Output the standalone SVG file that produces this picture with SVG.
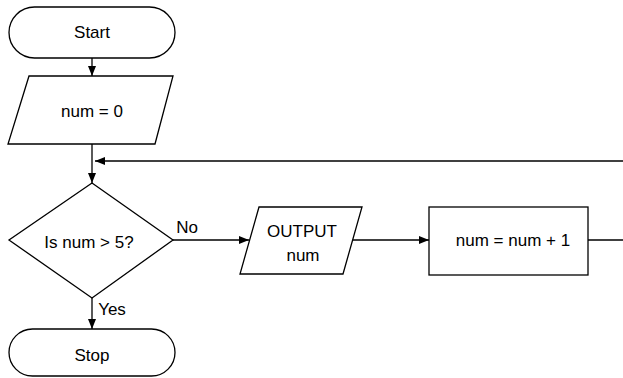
<svg xmlns="http://www.w3.org/2000/svg" width="623" height="378" viewBox="0 0 623 378">
<style>
.s{fill:#fff;stroke:#000;stroke-width:1.3}
.l{fill:none;stroke:#000;stroke-width:1.3}
text{font-family:"Liberation Sans",Arial,sans-serif;font-size:17px;fill:#000;text-anchor:middle}
</style>
<defs>
<marker id="a" viewBox="0 0 10 8" refX="10" refY="4" markerWidth="10" markerHeight="8" markerUnits="userSpaceOnUse" orient="auto">
<path d="M0,0L10,4L0,8Z" fill="#000"/>
</marker>
</defs>
<rect width="623" height="378" fill="#fff"/>
<g id="connectors">
<line class="l" x1="92" y1="58" x2="92" y2="76" marker-end="url(#a)"/>
<line class="l" x1="92" y1="144" x2="92" y2="183" marker-end="url(#a)"/>
<line class="l" x1="623" y1="161" x2="95" y2="161" marker-end="url(#a)"/>
<line class="l" x1="173" y1="240" x2="249" y2="240" marker-end="url(#a)"/>
<line class="l" x1="353" y1="240" x2="429" y2="240" marker-end="url(#a)"/>
<line class="l" x1="588" y1="240" x2="623" y2="240"/>
<line class="l" x1="92" y1="298" x2="92" y2="329" marker-end="url(#a)"/>
<text x="187" y="233">No</text>
<text x="112" y="315">Yes</text>
</g>
<g id="start">
<rect class="s" x="9" y="7" width="166" height="51" rx="25.5"/>
<text x="92" y="38">Start</text>
</g>
<g id="init">
<polygon class="s" points="29,76 173,76 155,144 8,144"/>
<text x="92" y="117">num = 0</text>
</g>
<g id="decision">
<polygon class="s" points="92,183 173,240 92,298 9,240"/>
<text x="89" y="248">Is num &gt; 5?</text>
</g>
<g id="output">
<polygon class="s" points="259,207 362,207 343,274 240,274"/>
<text x="302" y="237">OUTPUT</text>
<text x="303" y="261">num</text>
</g>
<g id="increment">
<rect class="s" x="429" y="207" width="159" height="68"/>
<text x="513" y="246">num = num + 1</text>
</g>
<g id="stop">
<rect class="s" x="9" y="329" width="166" height="47" rx="23.5"/>
<text x="92" y="361">Stop</text>
</g>
</svg>
